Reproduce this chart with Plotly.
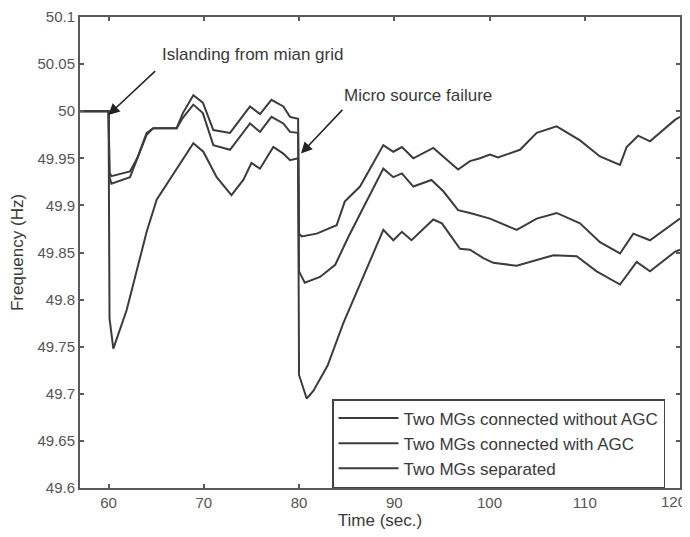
import plotly.graph_objects as go

# ---- data ----
t_with = [57, 60.0, 60.1, 60.3, 62.25, 63.0, 64.0, 64.7, 67.15, 67.8, 68.9, 69.9, 71.0, 72.75,
          74.85, 75.9, 77.1, 78.35, 79.05, 79.9, 80.0, 80.28, 81.85, 83.95, 84.8, 86.4, 88.85,
          89.9, 90.8, 92.0, 94.1, 96.7, 97.95, 99.0, 100.05, 100.9, 103.2, 104.95, 107.05,
          109.5, 111.6, 113.7, 114.4, 115.6, 116.85, 119.5, 120]
f_with = [50.0, 50.0, 49.935, 49.931, 49.936, 49.95, 49.977, 49.982, 49.982, 49.998, 50.017,
          50.009, 49.98, 49.977, 50.005, 49.997, 50.012, 50.005, 49.994, 49.992, 49.87, 49.867,
          49.870, 49.879, 49.904, 49.92, 49.964, 49.957, 49.962, 49.95, 49.961, 49.938, 49.947,
          49.95, 49.954, 49.951, 49.959, 49.977, 49.984, 49.969, 49.952, 49.943, 49.962, 49.974,
          49.968, 49.991, 49.994]

t_without = [57, 60.0, 60.1, 60.3, 62.25, 64.0, 64.7, 67.15, 67.8, 68.9, 69.9, 71.0, 72.75,
             74.85, 75.9, 77.1, 78.35, 79.05, 79.9, 80.0, 80.6, 82.2, 83.8, 85.2, 88.85, 89.9,
             90.8, 92.0, 93.9, 95.15, 96.7, 97.95, 100.05, 102.85, 104.95, 107.05, 109.5, 111.6,
             113.7, 115.1, 116.85, 119.5, 120]
f_without = [50.0, 50.0, 49.93, 49.923, 49.93, 49.975, 49.982, 49.982, 49.993, 50.007, 49.998,
             49.964, 49.959, 49.987, 49.978, 49.994, 49.987, 49.978, 49.977, 49.83, 49.818,
             49.824, 49.837, 49.867, 49.939, 49.930, 49.934, 49.920, 49.927, 49.915, 49.895,
             49.892, 49.886, 49.874, 49.886, 49.892, 49.881, 49.861, 49.849, 49.870, 49.863,
             49.883, 49.886]

t_sep = [57, 60.0, 60.1, 60.5, 61.9, 63.1, 64.0, 65.05, 67.15, 68.9, 69.95, 71.35, 72.9, 74.15,
         75.0, 75.9, 77.3, 78.35, 79.05, 79.9, 80.0, 80.8, 81.5, 83.0, 84.65, 86.6, 88.85, 89.9,
         90.8, 91.8, 94.1, 95.0, 96.9, 97.95, 99.35, 100.4, 102.85, 106.7, 109.15, 111.25,
         113.7, 115.45, 116.85, 119.5, 120]
f_sep = [50.0, 50.0, 49.78, 49.748, 49.789, 49.835, 49.872, 49.906, 49.938, 49.966, 49.957,
         49.93, 49.911, 49.927, 49.945, 49.939, 49.962, 49.955, 49.948, 49.95, 49.72, 49.695,
         49.703, 49.73, 49.775, 49.821, 49.874, 49.863, 49.872, 49.863, 49.885, 49.881, 49.854,
         49.853, 49.844, 49.839, 49.836, 49.847, 49.846, 49.830, 49.816, 49.840, 49.830,
         49.851, 49.853]

series_names = ["Two MGs connected without AGC", "Two MGs connected with AGC", "Two MGs separated"]

x_ticks = [60, 70, 80, 90, 100, 110, 120]
y_ticks = [49.6, 49.65, 49.7, 49.75, 49.8, 49.85, 49.9, 49.95, 50.0, 50.05, 50.1]
y_tick_labels = ["49.6", "49.65", "49.7", "49.75", "49.8", "49.85", "49.9", "49.95", "50", "50.05", "50.1"]

# ---- figure ----
LINE = "#3c3c3c"
TXT = "#3a3a3a"
TICKTXT = "#555555"
FONT = "Arial"

fig = go.Figure()
for name, tt, ff in [(series_names[0], t_without, f_without),
                     (series_names[1], t_with, f_with),
                     (series_names[2], t_sep, f_sep)]:
    fig.add_trace(go.Scatter(x=tt, y=ff, mode="lines", name=name,
                             line=dict(color=LINE, width=2)))

axis_common = dict(showline=True, linecolor="#5a5a5a", linewidth=2, mirror="allticks",
                   ticks="inside", ticklen=4, tickcolor="#5a5a5a", tickwidth=1.5,
                   showgrid=False, zeroline=False, automargin=False,
                   tickfont=dict(family=FONT, size=15, color=TICKTXT))

# last x tick label sits at the window edge; it is drawn as an annotation kept inside the page
x_tick_text = [str(v) for v in x_ticks[:-1]] + [""]
fig.update_xaxes(range=[57, 120], tickvals=x_ticks, ticktext=x_tick_text,
                 title=dict(text="Time (sec.)", font=dict(family=FONT, size=17, color=TXT), standoff=4),
                 **axis_common)
fig.update_yaxes(range=[49.6, 50.1], tickvals=y_ticks, ticktext=y_tick_labels,
                 title=dict(text="Frequency (Hz)", font=dict(family=FONT, size=17, color=TXT), standoff=12),
                 **axis_common)
fig.add_annotation(x=x_ticks[-1], y=0, xref="x", yref="paper", xanchor="right", yanchor="top",
                   xshift=8, yshift=-3, text=str(x_ticks[-1]), showarrow=False,
                   font=dict(family=FONT, size=15, color=TICKTXT))

# annotations
fig.add_annotation(x=75.06, y=50.06, xref="x", yref="y", text="Islanding from mian grid",
                   showarrow=False, font=dict(family=FONT, size=17, color=TXT))
fig.add_annotation(x=59.97, y=49.996, xref="x", yref="y", ax=65.05, ay=50.044, axref="x", ayref="y",
                   text="", showarrow=True, arrowhead=2, arrowsize=1.5, arrowwidth=1.5, arrowcolor="#222222")
fig.add_annotation(x=84.5, y=50.017, xref="x", yref="y", text="Micro source failure",
                   showarrow=False, xanchor="left", font=dict(family=FONT, size=17, color=TXT))
fig.add_annotation(x=80.2, y=49.955, xref="x", yref="y", ax=84.7, ay=50.003, axref="x", ayref="y",
                   text="", showarrow=True, arrowhead=2, arrowsize=1.5, arrowwidth=1.5, arrowcolor="#222222")

# the page body adds an 8px margin, so the figure is sized to fit the rest of the window
fig.update_layout(
    width=682, height=529,
    margin=dict(l=72, r=10, t=9, b=49),
    paper_bgcolor="white", plot_bgcolor="white",
    font=dict(family=FONT, color=TXT),
    showlegend=True,
    legend=dict(x=0.975, y=0.0, xanchor="right", yanchor="bottom",
                bgcolor="white", bordercolor="#444444", borderwidth=1.5, itemwidth=60,
                font=dict(family=FONT, size=17, color=TXT), tracegroupgap=2),
)

fig.write_html("out.html")
